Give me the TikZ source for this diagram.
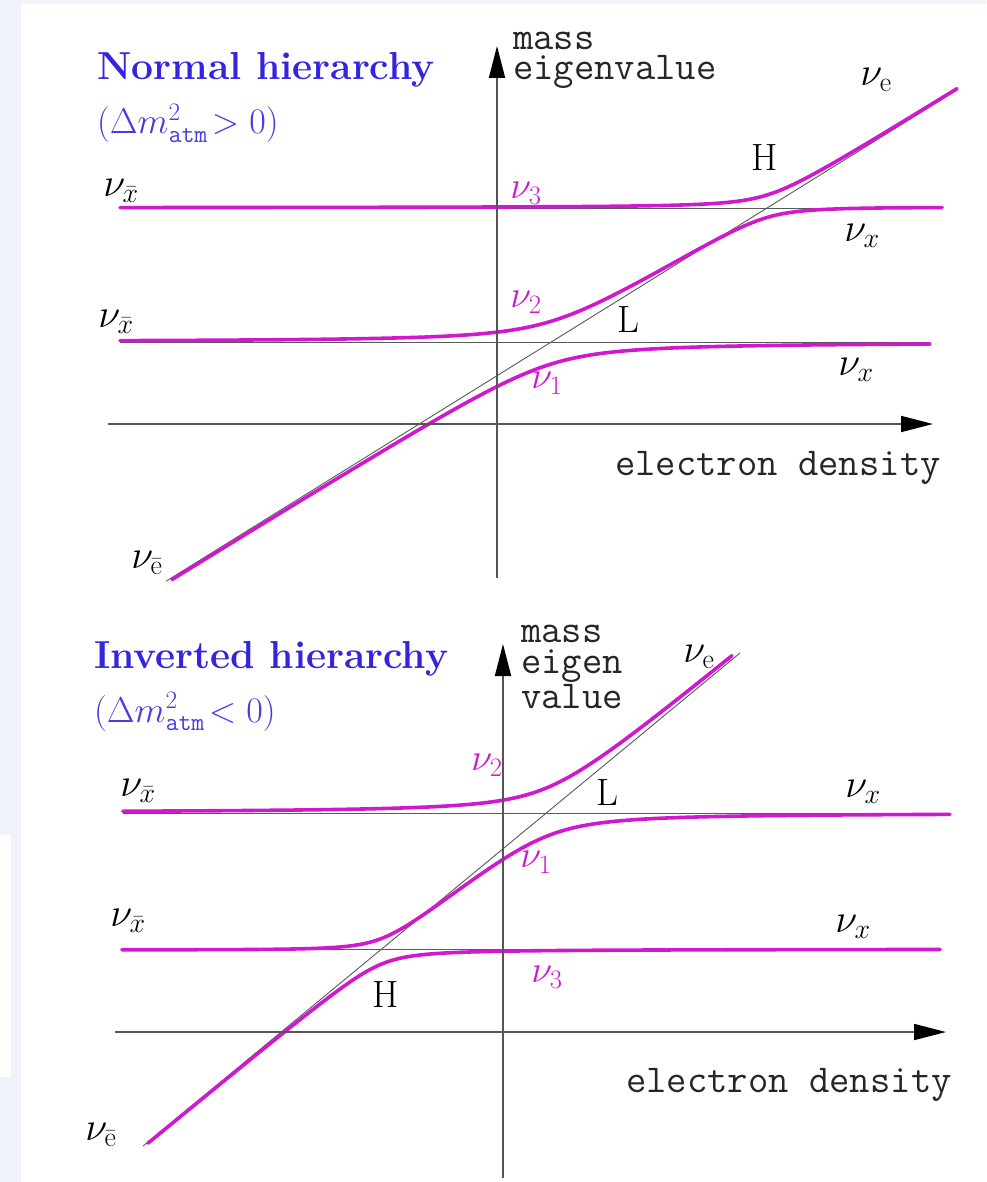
\RequirePackage{fix-cm}
\documentclass[tikz,border=0pt]{standalone}
\usetikzlibrary{arrows.meta}
\definecolor{mag}{RGB}{208,24,208}
\definecolor{ttl}{RGB}{52,36,222}
\definecolor{ttlb}{RGB}{70,60,224}
\definecolor{bgc}{RGB}{240,244,250}
\definecolor{axc}{RGB}{85,85,85}
\begin{document}
\begin{tikzpicture}[x=1pt,y=-1pt,
  declare function={
    tdg(\t)=580-0.621*(\t-168);
    tsL(\t)=10*sqrt(((tdg(\t)-342)/20)*((tdg(\t)-342)/20)+4.84);
    tsH(\t)=10*sqrt(((tdg(\t)-208)/20)*((tdg(\t)-208)/20)+1.69);
    tnuone(\t)=(tdg(\t)+342)/2+tsL(\t);
    tnutwo(\t)=(tdg(\t)+342)/2-tsL(\t)+(tdg(\t)+208)/2+tsH(\t)-tdg(\t);
    tnuthree(\t)=(tdg(\t)+208)/2-tsH(\t);
    bdg(\t)=1142-0.826*(\t-148);
    bsL(\t)=10*sqrt(((bdg(\t)-813)/20)*((bdg(\t)-813)/20)+6.25);
    bsH(\t)=10*sqrt(((bdg(\t)-949)/20)*((bdg(\t)-949)/20)+2.25);
    bnutwo(\t)=(bdg(\t)+813)/2-bsL(\t);
    bnuone(\t)=(bdg(\t)+813)/2+bsL(\t)+(bdg(\t)+949)/2-bsH(\t)-bdg(\t);
    bnuthree(\t)=(bdg(\t)+949)/2+bsH(\t);
  },
  curve/.style={draw=mag,line width=3.6pt,line cap=round},
  guide/.style={draw=black!65,line width=0.9pt},
  axis/.style={draw=axc,line width=1.8pt,-{Triangle[length=32pt,width=16pt,color=black]}},
  nulab/.style={inner sep=0pt,font=\fontsize{40}{44}\selectfont},
  mlab/.style={inner sep=0pt,text=mag,font=\fontsize{38}{42}\selectfont},
  letter/.style={inner sep=0pt,font=\fontsize{38}{42}\selectfont},
  mono/.style={inner sep=0pt,anchor=base west,text=black!85,font=\fontsize{39.5}{30}\selectfont\ttfamily},
  monoblock/.style={mono,align=left},
  titlebox/.style={inner sep=0pt,anchor=base west,text=ttl,font=\fontsize{39}{44}\selectfont\bfseries},
  subtitle/.style={inner sep=0pt,anchor=base west,text=ttlb,font=\fontsize{36}{40}\selectfont},
]
% background
\fill[bgc] (0,0) rectangle (986,1182);
\fill[white] (21,4) rectangle (986,1182);
\fill[white] (0,835) rectangle (11,1077);
\useasboundingbox (0,0) rectangle (986,1182);

% ===== Top panel: normal hierarchy =====
\coordinate (tdA) at (166,{tdg(166)});
\coordinate (tdB) at (958,{tdg(958)});
\coordinate (thA) at (120,208); \coordinate (thB) at (942,208);
\coordinate (tlA) at (120,342); \coordinate (tlB) at (930,342);
\draw[guide] (tdA) -- (tdB);
\draw[guide] (thA) -- (thB);
\draw[guide] (tlA) -- (tlB);

\draw[curve] plot[domain=172:930,samples=200] (\x,{tnuone(\x)});
\draw[curve] plot[domain=120:942,samples=200] (\x,{tnutwo(\x)});
\draw[curve] plot[domain=120:957,samples=200] (\x,{tnuthree(\x)});

\coordinate (tvb) at (497,578); \coordinate (tvt) at (497,46);
\coordinate (thl) at (108,424); \coordinate (thr) at (933,424);
\draw[axis] (tvb) -- (tvt);
\draw[axis] (thl) -- (thr);

\node[titlebox] (t1) at (97,80) {Normal hierarchy};
\node[subtitle] (t1b) at (97,134) {$(\Delta m^2_{\mathtt{atm}}\!>0)$};
\node[monoblock] (tmass) at (513,80) {mass\\eigenvalue};
\node[mono] (tel) at (615,475) {electron density};

\node[nulab] (tne) at (876,80) {$\nu_{\mathrm{e}}$};
\node[letter] (tH) at (765,158) {H};
\node[mlab] (tn3) at (526,193) {$\nu_3$};
\node[nulab] (txb1) at (121,191) {$\nu_{\bar{x}}$};
\node[nulab] (tx1) at (862,236) {$\nu_x$};
\node[mlab] (tn2) at (526,302) {$\nu_2$};
\node[letter] (tL) at (628,320) {L};
\node[nulab] (txb2) at (116,322) {$\nu_{\bar{x}}$};
\node[nulab] (tx2) at (856,370) {$\nu_x$};
\node[mlab] (tn1) at (547,383) {$\nu_1$};
\node[nulab] (teb) at (147,563) {$\nu_{\bar{\mathrm{e}}}$};

% ===== Bottom panel: inverted hierarchy =====
\coordinate (bdA) at (143,{bdg(143)});
\coordinate (bdB) at (740,{bdg(740)});
\coordinate (buA) at (123,813); \coordinate (buB) at (950,813);
\coordinate (bwA) at (122,949); \coordinate (bwB) at (940,949);
\draw[guide] (bdA) -- (bdB);
\draw[guide] (buA) -- (buB);
\draw[guide] (bwA) -- (bwB);

\draw[curve] plot[domain=123:732,samples=200] (\x,{bnutwo(\x)});
\draw[curve] plot[domain=122:950,samples=200] (\x,{bnuone(\x)});
\draw[curve] plot[domain=148:940,samples=200] (\x,{bnuthree(\x)});

\coordinate (bvb) at (503,1178); \coordinate (bvt) at (503,644);
\coordinate (bhl) at (115,1032); \coordinate (bhr) at (946,1032);
\draw[axis] (bvb) -- (bvt);
\draw[axis] (bhl) -- (bhr);

\node[titlebox] (b1) at (94,668) {Inverted hierarchy};
\node[subtitle] (b1b) at (94,722) {$(\Delta m^2_{\mathtt{atm}}\!<0)$};
\node[monoblock,font=\fontsize{39.5}{31.5}\selectfont\ttfamily] (bmass) at (521,708) {mass\\eigen\\value};
\node[mono] (bel) at (626,1092) {electron density};

\node[nulab] (bne) at (699,657) {$\nu_{\mathrm{e}}$};
\node[mlab] (bn2) at (487,765) {$\nu_2$};
\node[letter] (bL) at (607,793) {L};
\node[nulab] (bxb1) at (138,791) {$\nu_{\bar{x}}$};
\node[nulab] (bx1) at (863,792) {$\nu_x$};
\node[mlab] (bn1) at (536,862) {$\nu_1$};
\node[nulab] (bxb2) at (128,921) {$\nu_{\bar{x}}$};
\node[nulab] (bx2) at (853,927) {$\nu_x$};
\node[mlab] (bn3) at (547,977) {$\nu_3$};
\node[letter] (bH) at (386,995) {H};
\node[nulab] (beb) at (101,1135) {$\nu_{\bar{\mathrm{e}}}$};
\end{tikzpicture}
\end{document}
